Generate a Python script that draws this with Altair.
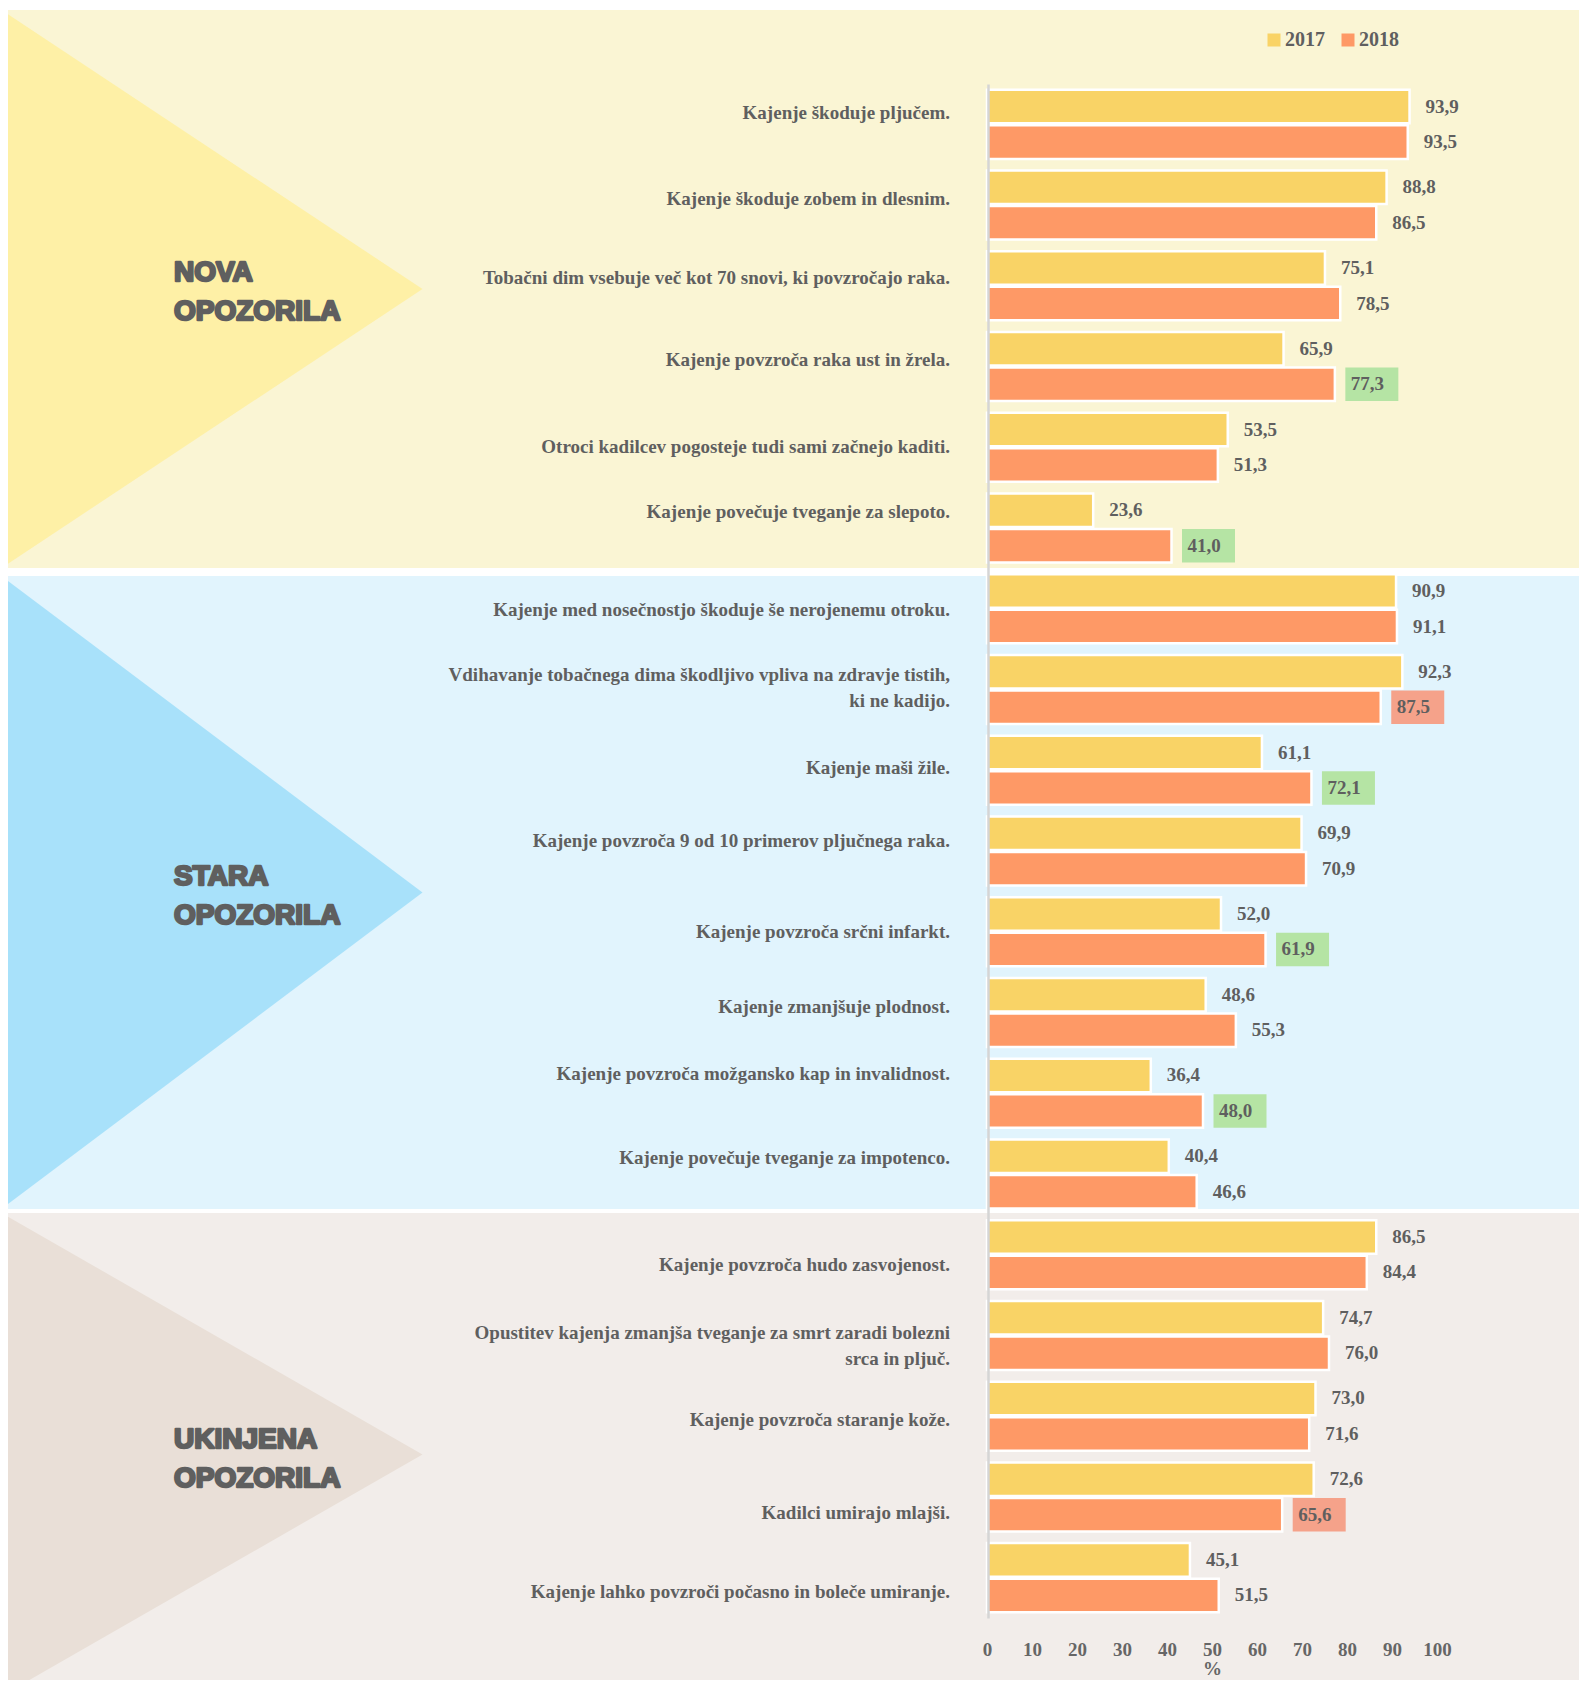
import altair as alt
import pandas as pd

# ---------------- data ----------------
categories = [
    "Kajenje škoduje pljučem.",
    "Kajenje škoduje zobem in dlesnim.",
    "Tobačni dim vsebuje več kot 70 snovi, ki povzročajo raka.",
    "Kajenje povzroča raka ust in žrela.",
    "Otroci kadilcev pogosteje tudi sami začnejo kaditi.",
    "Kajenje povečuje tveganje za slepoto.",
    "Kajenje med nosečnostjo škoduje še nerojenemu otroku.",
    "Vdihavanje tobačnega dima škodljivo vpliva na zdravje tistih,\nki ne kadijo.",
    "Kajenje maši žile.",
    "Kajenje povzroča 9 od 10 primerov pljučnega raka.",
    "Kajenje povzroča srčni infarkt.",
    "Kajenje zmanjšuje plodnost.",
    "Kajenje povzroča možgansko kap in invalidnost.",
    "Kajenje povečuje tveganje za impotenco.",
    "Kajenje povzroča hudo zasvojenost.",
    "Opustitev kajenja zmanjša tveganje za smrt zaradi bolezni\nsrca in pljuč.",
    "Kajenje povzroča staranje kože.",
    "Kadilci umirajo mlajši.",
    "Kajenje lahko povzroči počasno in boleče umiranje.",
]
values_2017 = [93.9, 88.8, 75.1, 65.9, 53.5, 23.6, 90.9, 92.3, 61.1, 69.9,
               52.0, 48.6, 36.4, 40.4, 86.5, 74.7, 73.0, 72.6, 45.1]
values_2018 = [93.5, 86.5, 78.5, 77.3, 51.3, 41.0, 91.1, 87.5, 72.1, 70.9,
               61.9, 55.3, 48.0, 46.6, 84.4, 76.0, 71.6, 65.6, 51.5]
change_2018 = ["", "", "", "up", "", "up", "", "down", "up", "",
               "up", "", "up", "", "", "", "", "down", ""]
years = ["2017", "2018"]
sections = ["NOVA\nOPOZORILA", "STARA\nOPOZORILA", "UKINJENA\nOPOZORILA"]
x_ticks = [0, 10, 20, 30, 40, 50, 60, 70, 80, 90, 100]
axis_title = "%"

# ---------------- styling ----------------
SERIF = "Liberation Serif"
HEAVY = "Liberation Sans Narrow, Liberation Sans, sans-serif"
TEXT = "#5f5f5f"
YEL, ORA = "#f9d366", "#fe9966"
GREEN, RED = "#b5e4a4", "#f5a28a"
W, H = 450, 1534
STEP = H / len(categories)
LINE_H = 26
# vertical nudges (px) of the category labels, as in the original layout
label_dy = [-11, -6, -8, -7, 0, -16, 1, -2, -2, -10, 0, -5, -19, -16, 10, 11, 4, 16, 14]

def fmt(v):
    return f"{v:.1f}".replace(".", ",")

rows = []
for i, c in enumerate(categories):
    rows.append({"category": c, "year": "2017", "value": values_2017[i],
                 "label": fmt(values_2017[i]), "change": ""})
    rows.append({"category": c, "year": "2018", "value": values_2018[i],
                 "label": fmt(values_2018[i]), "change": change_2018[i]})
df = pd.DataFrame(rows)
df_hi = df[df["change"] != ""]

lab_rows = []
for i, c in enumerate(categories):
    n_lines = c.count("\n") + 1
    shift = label_dy[i] - (n_lines - 1) * LINE_H / 2
    lab_rows.append({"category": c, "row": i + 0.5 + shift / STEP})
lab_df = pd.DataFrame(lab_rows)
one = pd.DataFrame({"k": [0]})

# ---------------- decorations ----------------
def band(y1, y2, color):
    return alt.Chart(one).mark_rect(color=color, opacity=1, strokeWidth=0).encode(
        x=alt.value(-985), x2=alt.value(600), y=alt.value(y1), y2=alt.value(y2))

def tri(cx, cy, w, h, color):
    a = (w / 2) / (h / 2)
    path = f"M {-a:.4f} -1 L {a:.4f} 0 L {-a:.4f} 1 Z"
    return alt.Chart(one).mark_point(shape=path, size=h * h, filled=True,
                                     color=color, opacity=1, strokeWidth=0).encode(
        x=alt.value(cx), y=alt.value(cy))

def sect(txt, y):
    return alt.Chart(one).mark_text(
        text=txt, lineBreak="\n", align="left", baseline="alphabetic",
        font=HEAVY, fontSize=28, fontWeight="bold", color=TEXT,
        stroke=TEXT, strokeWidth=2.4, strokeJoin="round", lineHeight=39).encode(
        x=alt.value(-813), y=alt.value(y))

decor = [
    band(-74, 484, "#faf5d4"),
    band(492, 1125, "#e1f4fd"),
    band(1129, 1620, "#f2edea"),
    tri(-775, 205, 421, 558, "#fef0a6"),
    tri(-775, 808.5, 421, 633, "#a8e1fa"),
    tri(-775, 1370.5, 421, 483, "#e9dfd7"),
    sect(sections[0], 197),
    sect(sections[1], 801),
    sect(sections[2], 1364),
]

# ---------------- main bars ----------------
y_enc = alt.Y("category:N", sort=None,
              scale=alt.Scale(domain=categories, paddingInner=0.145, paddingOuter=0.0725),
              axis=alt.Axis(title=None, labels=False, ticks=False, grid=False,
                            domainColor="#d5d5d5", domainWidth=2.5, offset=-1, zindex=1))
yoff_enc = alt.YOffset("year:N", scale=alt.Scale(domain=years, paddingInner=0.056, paddingOuter=0))
x_enc = alt.X("value:Q", scale=alt.Scale(domain=[0, 100], nice=False),
              axis=alt.Axis(values=x_ticks, domain=False, ticks=False, tickSize=0, grid=False,
                            labelFlush=False, labelFont=SERIF, labelFontSize=19,
                            labelFontWeight="bold", labelColor="#666666", labelPadding=22,
                            title=axis_title, titleFont=SERIF, titleFontSize=19,
                            titleFontWeight="bold", titleColor="#666666",
                            titleY=56, titleBaseline="alphabetic", zindex=1))

bars = alt.Chart(df).mark_bar(stroke="white", strokeWidth=2.5, opacity=1).encode(
    y=y_enc, yOffset=yoff_enc, x=x_enc,
    color=alt.Color("year:N", scale=alt.Scale(domain=years, range=[YEL, ORA]),
                    legend=alt.Legend(orient="none", legendX=277, legendY=-54,
                                      direction="horizontal", title=None,
                                      symbolType="square", symbolSize=169,
                                      symbolStrokeWidth=0, symbolOpacity=1,
                                      labelFont=SERIF, labelFontSize=20,
                                      labelFontWeight="bold", labelColor=TEXT,
                                      labelOffset=1, columnPadding=13, padding=0)),
)

boxes = alt.Chart(df_hi).mark_bar(xOffset=10.5, x2Offset=63.5, opacity=1, strokeWidth=0).encode(
    y=y_enc, yOffset=yoff_enc, x=x_enc, x2=alt.X2("value:Q"),
    fill=alt.Fill("change:N", scale=alt.Scale(domain=["up", "down"], range=[GREEN, RED]),
                  legend=None),
)

vals = alt.Chart(df).mark_text(align="left", baseline="middle", dx=16, font=SERIF,
                               fontSize=19, fontWeight="bold", color=TEXT).encode(
    y=y_enc, yOffset=yoff_enc, x=x_enc, text="label:N")

main = alt.layer(bars, boxes, vals)

labels = alt.Chart(lab_df).mark_text(
    align="right", baseline="middle", lineBreak="\n", lineHeight=LINE_H,
    font=SERIF, fontSize=19, fontWeight="bold", color=TEXT).encode(
    x=alt.value(-37),
    y=alt.Y("row:Q", scale=alt.Scale(domain=[0, len(categories)], reverse=True, nice=False, zero=False),
            axis=None),
    text="category:N")

chart = alt.layer(*decor, main, labels).resolve_scale(y="independent").properties(
    width=W, height=H,
    padding={"left": 979, "top": 76, "right": 142, "bottom": 62},
    autosize=alt.AutoSizeParams(type="none"),
    background="white",
).configure_view(strokeWidth=0)

chart.save("out.html", embed_options={"renderer": "svg", "actions": False})
